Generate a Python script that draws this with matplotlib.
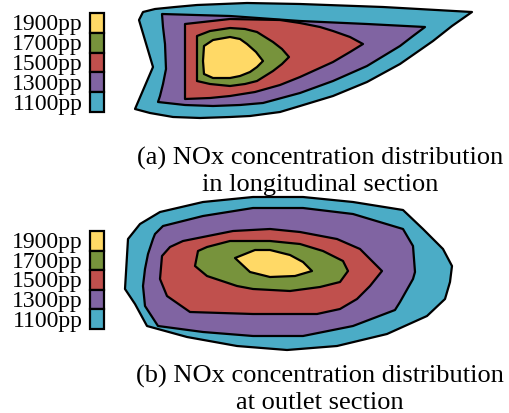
import matplotlib.pyplot as plt
from matplotlib.patches import Polygon, Rectangle

# contour levels and colours (legend order, top to bottom)
levels = ['1900pp', '1700pp', '1500pp', '1300pp', '1100pp']
colors = ['#FFD966', '#77933C', '#C0504D', '#8064A2', '#4BACC6']

# outlines of the longitudinal-section contours (image pixel coordinates)
long_1100 = [(143, 13), (155, 10), (175, 8), (197, 6), (247, 4), (300, 5), (383, 8),
             (472, 13), (452, 27), (433, 42), (400, 65), (367, 83), (333, 97),
             (300, 107), (280, 113), (250, 117), (230, 118), (200, 119), (173, 118),
             (150, 114), (135, 110), (153, 68), (139, 21)]
long_1300 = [(162, 15), (230, 17), (300, 22), (367, 25), (425, 28), (413, 37),
             (400, 47), (367, 67), (333, 82), (300, 94), (263, 104), (240, 106),
             (213, 107), (185, 106), (158, 103), (160, 97), (163, 85), (166, 70),
             (165, 45), (163, 28)]
long_1500 = [(185, 25), (230, 20), (280, 21), (300, 24), (320, 28), (333, 32),
             (350, 38), (363, 45), (350, 53), (333, 63), (300, 78), (280, 86),
             (255, 93), (230, 97), (210, 99), (185, 100)]
long_1700 = [(197, 37), (210, 32), (230, 29), (245, 30), (257, 33), (273, 43),
             (282, 50), (289, 58), (282, 65), (273, 72), (257, 82), (245, 85),
             (230, 87), (210, 85), (197, 82)]
long_1900 = [(204, 47), (213, 41), (230, 38), (240, 40), (247, 45), (256, 53),
             (263, 62), (257, 68), (250, 73), (240, 77), (230, 79), (213, 79),
             (204, 75), (203, 62)]

# outlines of the outlet-section contours
out_1100 = [(128, 240), (140, 225), (160, 213), (203, 203), (253, 198), (303, 198),
            (353, 203), (403, 211), (423, 230), (443, 250), (452, 267), (450, 283),
            (445, 300), (427, 317), (387, 335), (337, 347), (287, 351), (237, 347),
            (187, 338), (147, 327), (135, 305), (125, 290)]
out_1300 = [(163, 227), (203, 217), (253, 209), (303, 209), (353, 215), (403, 230),
            (413, 247), (415, 273), (413, 280), (400, 303), (395, 311), (353, 327),
            (303, 337), (253, 337), (203, 333), (158, 327), (145, 307), (143, 287),
            (145, 270), (148, 255), (153, 240), (155, 235)]
out_1500 = [(162, 257), (170, 248), (183, 242), (233, 232), (270, 230), (300, 233),
            (337, 240), (360, 250), (367, 257), (382, 272), (370, 287), (357, 300),
            (340, 310), (317, 315), (253, 315), (190, 313), (167, 297), (160, 280)]
out_1700 = [(198, 252), (207, 248), (230, 242), (270, 242), (300, 245), (323, 252),
            (343, 262), (348, 272), (340, 283), (320, 288), (290, 292), (253, 290),
            (237, 287), (207, 277), (195, 267)]
out_1900 = [(235, 259), (255, 251), (270, 251), (290, 256), (303, 263), (312, 272),
            (295, 277), (270, 278), (250, 273)]

captions_a = ['(a) NOx concentration distribution', 'in longitudinal section']
captions_b = ['(b) NOx concentration distribution', 'at outlet section']

plt.rcParams['font.family'] = ['Liberation Serif', 'DejaVu Serif']

fig = plt.figure(figsize=(5.09, 4.14), dpi=100)
ax = fig.add_axes([0, 0, 1, 1])
ax.set_xlim(0, 509)
ax.set_ylim(414, 0)
ax.axis('off')

sections = [
    ([long_1100, long_1300, long_1500, long_1700, long_1900], 14, 113, captions_a, 165),
    ([out_1100, out_1300, out_1500, out_1700, out_1900], 232, 330, captions_b, 383),
]

for shapes, leg_top, leg_bot, caption, base_y in sections:
    # nested filled contours, outermost first
    for pts, col in zip(shapes, colors[::-1]):
        ax.add_patch(Polygon(pts, closed=True, facecolor=col, edgecolor='black',
                             lw=1.6, joinstyle='round'))
    # legend boxes
    h = (leg_bot - leg_top) / len(levels)
    for i, (lab, col) in enumerate(zip(levels, colors)):
        y0 = leg_top + i * h
        ax.add_patch(Rectangle((90, y0), 14, h, facecolor=col, edgecolor='black', lw=1.6))
        ax.text(83, y0 + h / 2 + 1, lab, ha='right', va='center', fontsize=17)
    for j, line in enumerate(caption):
        ax.text(320, base_y + 26 * j, line, ha='center', va='baseline', fontsize=19)

fig.savefig('out.png', dpi=100)
